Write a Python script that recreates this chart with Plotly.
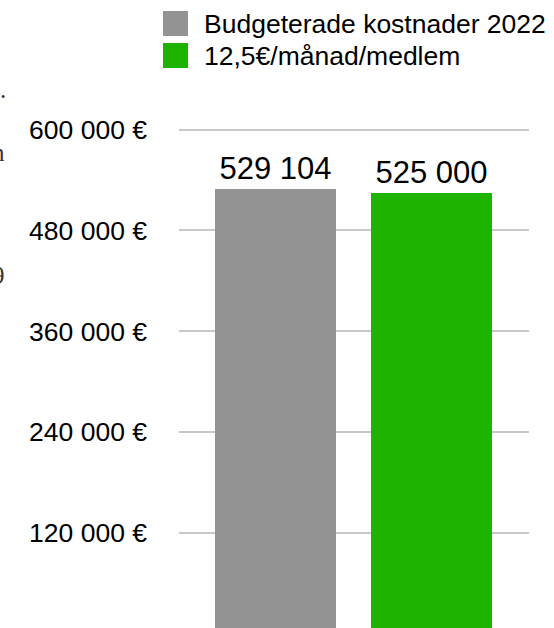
import plotly.graph_objects as go

# ---- data ----
categories = ["Budgeterade kostnader 2022", "12,5€/månad/medlem"]
values = [529104, 525000]
colors = ["#939393", "#1db300"]
tick_vals = [120000, 240000, 360000, 480000, 600000]
tick_text = ["120 000 €", "240 000 €", "360 000 €", "480 000 €", "600 000 €"]
bar_labels = [f"{v:,}".replace(",", " ") for v in values]

W, H = 554, 628
L, R, T, B = 179, 25, 100, 0
PW, PH = W - L - R, H - T - B


def px_x(x):
    return (x - L) / PW


def px_y(y):
    return (H - B - y) / PH


fig = go.Figure()
for i, (cat, val, col, lab) in enumerate(zip(categories, values, colors, bar_labels)):
    fig.add_trace(go.Bar(
        x=[i], y=[val], name=cat, marker=dict(color=col, line=dict(width=0)),
        width=0.78, text=[lab], textposition="outside", cliponaxis=False,
        textfont=dict(size=31, color="#000000", family="Liberation Sans, Arial, sans-serif"),
        showlegend=False, hoverinfo="skip",
    ))

# legend drawn manually (large swatches)
shapes = []
annotations = []
for i, (cat, col) in enumerate(zip(categories, colors)):
    top = 11 + i * 32
    shapes.append(dict(type="rect", xref="paper", yref="paper",
                       x0=px_x(163), x1=px_x(188), y0=px_y(top + 25), y1=px_y(top),
                       fillcolor=col, line=dict(width=0)))
    annotations.append(dict(xref="paper", yref="paper", x=px_x(202), y=px_y(top + 12.5),
                            xanchor="left", yanchor="middle", showarrow=False, text=cat,
                            font=dict(size=26.5, color="#000000",
                                      family="Liberation Sans, Arial, sans-serif")))

# cut-off text fragments at left edge
for txt, xr, yc in [(".", 8, 90), ("n", 7, 152), ("9", 7, 275)]:
    annotations.append(dict(xref="paper", yref="paper", x=px_x(xr), y=px_y(yc),
                            xanchor="right", yanchor="middle", showarrow=False, text=txt,
                            font=dict(size=25, color="#333333",
                                      family="Liberation Serif, serif")))

fig.update_layout(
    width=W, height=H,
    margin=dict(l=L, r=R, t=T, b=B, pad=0),
    paper_bgcolor="white", plot_bgcolor="white",
    bargap=0, barmode="overlay",
    shapes=shapes, annotations=annotations,
    xaxis=dict(range=[-0.6186, 1.625], showticklabels=False, showgrid=False,
               zeroline=False, showline=False, fixedrange=True),
    yaxis=dict(range=[6500, 635400], tickvals=tick_vals, ticktext=tick_text,
               showgrid=True, gridcolor="#c8c8c8", gridwidth=1.5,
               zeroline=False, showline=False, ticks="",
               ticklabelstandoff=31, fixedrange=True,
               tickfont=dict(size=26.5, color="#000000",
                             family="Liberation Sans, Arial, sans-serif")),
    showlegend=False,
)

fig.write_html("out.html", config={"displayModeBar": False},
               post_script="document.body.style.margin='0px';document.body.style.overflow='hidden';")
